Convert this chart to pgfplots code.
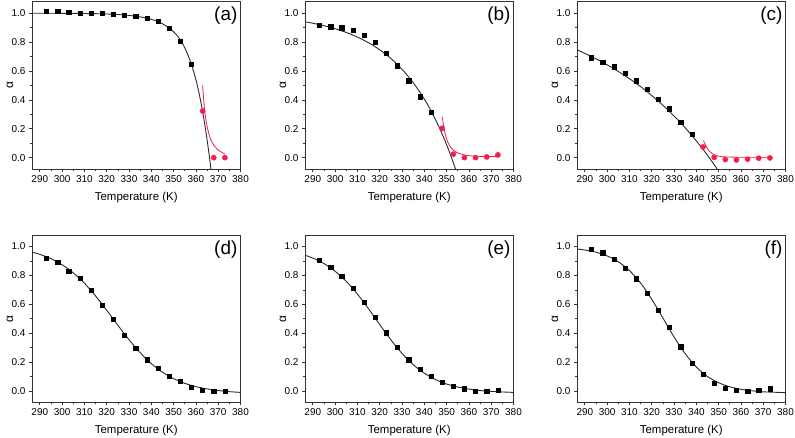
\documentclass[border=0pt]{standalone}
\usepackage{pgfplots}
\pgfplotsset{compat=1.18}
\usepackage{fontspec}
\setmainfont{Liberation Sans}
\definecolor{axcol}{HTML}{333333}
\definecolor{redpt}{HTML}{F21E4C}
\definecolor{fitblk}{HTML}{2A2A2A}

\pgfplotsset{
 panel/.style={
  scale only axis, width=208.5bp, height=167.5bp,
  anchor=north west,
  xmin=286.5, xmax=380, ymin=-0.08, ymax=1.08,
  xtick={290,300,...,380}, ytick={0,0.2,0.4,0.6,0.8,1.0},
  minor x tick num=1, minor y tick num=1,
  tick align=outside, xtick pos=left, ytick pos=left,
  major tick length=3bp, minor tick length=1.8bp,
  axis line style={draw=axcol, line width=0.8bp},
  every tick/.style={draw=axcol, line width=0.7bp},
  /pgf/number format/assume math mode=true,
  tick label style={font=\fontsize{10}{12}\selectfont},
  yticklabel style={/pgf/number format/.cd, fixed, fixed zerofill, precision=1},
  xticklabel style={/pgf/number format/.cd, fixed, precision=0},
  xlabel={Temperature (K)}, ylabel={α},
  every axis x label/.style={at={(axis description cs:0.5,0)}, anchor=center, yshift=-28bp, font=\fontsize{11.5}{13}\selectfont},
  every axis y label/.style={at={(axis description cs:-0.106,0.5)}, rotate=90, anchor=center, font=\fontsize{12}{14}\selectfont},
 },
 blkpts/.style={only marks, mark=square*, mark size=2.1bp, color=black},
 redpts/.style={only marks, mark=*, mark size=2.6bp, color=redpt},
 fitk/.style={no marks, color=fitblk, line width=0.9bp, smooth},
 fitr/.style={no marks, color=redpt, line width=0.8bp, smooth},
}
\newcommand{\plab}[1]{\node[anchor=north east, inner sep=0pt, font=\fontsize{19}{22}\selectfont] at (rel axis cs:0.986,0.968) {#1};}

\begin{document}
\begin{tikzpicture}
\useasboundingbox (0,0) rectangle (795bp,438bp);

% (a)
\begin{axis}[panel, at={(32bp,436.3bp)}]
\addplot[fitk] coordinates {(286.5,1.0) (295,1.0) (305,0.999) (315,0.997) (320,0.995) (325,0.991) (330,0.985) (335,0.975) (338,0.966) (341,0.953) (344,0.935) (347,0.909) (350,0.872) (352,0.838) (354,0.79) (356,0.728) (358,0.645) (359,0.595) (360,0.54) (361,0.475) (362,0.402) (363,0.32) (364,0.228) (365,0.125) (366,0.012) (367,-0.11)};
\addplot[blkpts] coordinates {(293,1.016) (298,1.012) (303,1.01) (308,1.0) (313,0.998) (318,0.998) (323,0.991) (328,0.986) (333,0.977) (338,0.965) (343,0.944) (348,0.896) (353,0.806) (358,0.647)};
\addplot[fitr] coordinates {(363,0.50) (363.5,0.40) (364,0.32) (364.5,0.262) (365,0.217) (366,0.155) (367,0.115) (368,0.088) (369,0.068) (370,0.053) (371,0.042) (372,0.033) (373,0.026)};
\addplot[redpts] coordinates {(363,0.323) (368,0.0) (373,0.0)};
\plab{(a)}
\end{axis}

% (b)
\begin{axis}[panel, at={(305bp,436.3bp)}]
\addplot[fitk] coordinates {(286.5,0.941) (290,0.931) (295,0.914) (300,0.893) (305,0.867) (310,0.835) (315,0.796) (320,0.747) (325,0.687) (330,0.612) (335,0.520) (340,0.406) (343,0.325) (345,0.264) (347,0.199) (349,0.127) (351,0.050) (352.2,0.0) (353,-0.035) (354,-0.080) (355,-0.127)};
\addplot[blkpts] coordinates {(293,0.919) (298,0.907) (303,0.9) (308,0.884) (313,0.85) (318,0.797) (323,0.723) (328,0.637) (333,0.533) (338,0.422) (343,0.314)};
\addplot[fitr] coordinates {(348,0.284) (349,0.19) (350,0.13) (351,0.093) (352,0.068) (353,0.052) (354,0.041) (356,0.027) (358,0.019) (360,0.014) (363,0.010) (367,0.008) (373,0.007)};
\addplot[redpts] coordinates {(348,0.203) (353,0.024) (358,0.0) (363,0.0) (368,0.005) (373,0.019)};
\plab{(b)}
\end{axis}

% (c)
\begin{axis}[panel, at={(577bp,436.3bp)}]
\addplot[fitk] coordinates {(286.5,0.747) (290,0.722) (295,0.685) (300,0.643) (305,0.597) (310,0.547) (315,0.492) (320,0.430) (325,0.363) (330,0.289) (335,0.207) (340,0.116) (343,0.058) (345.8,0.0) (348,-0.048) (350,-0.093)};
\addplot[blkpts] coordinates {(293,0.692) (298,0.662) (303,0.63) (308,0.584) (313,0.533) (318,0.474) (323,0.404) (328,0.339) (333,0.247) (338,0.164)};
\addplot[fitr] coordinates {(343.2,0.118) (344,0.09) (345,0.062) (346,0.043) (347,0.03) (348,0.02) (349,0.014) (350,0.010) (352,0.006) (355,0.004) (360,0.003) (373,0.003)};
\addplot[redpts] coordinates {(343,0.074) (348,0.002) (353,-0.013) (358,-0.016) (363,-0.011) (368,-0.004) (373,-0.002)};
\plab{(c)}
\end{axis}

% (d)
\begin{axis}[panel, at={(32bp,203bp)}]
\addplot[fitk] coordinates {(286.5,0.962) (290,0.946) (295,0.916) (300,0.874) (305,0.818) (310,0.746) (315,0.658) (320,0.559) (325,0.455) (330,0.355) (335,0.265) (340,0.189) (345,0.130) (350,0.085) (355,0.053) (360,0.030) (365,0.014) (370,0.003) (375,-0.005) (380,-0.010)};
\addplot[blkpts] coordinates {(293,0.919) (298,0.889) (303,0.831) (308,0.78) (313,0.697) (318,0.593) (323,0.497) (328,0.388) (333,0.298) (338,0.217) (343,0.155) (348,0.1) (353,0.067) (358,0.028) (363,0.005) (368,0.0) (373,0.0)};
\plab{(d)}
\end{axis}

% (e)
\begin{axis}[panel, at={(305bp,203bp)}]
\addplot[fitk] coordinates {(286.5,0.940) (290,0.920) (295,0.882) (300,0.829) (305,0.759) (310,0.671) (315,0.569) (320,0.460) (325,0.354) (330,0.260) (335,0.182) (340,0.123) (345,0.079) (350,0.048) (355,0.027) (360,0.013) (365,0.003) (370,-0.003) (375,-0.007) (380,-0.010)};
\addplot[blkpts] coordinates {(293,0.905) (298,0.859) (303,0.792) (308,0.709) (313,0.616) (318,0.512) (323,0.404) (328,0.305) (333,0.217) (338,0.148) (343,0.1) (348,0.06) (353,0.035) (358,0.016) (363,-0.002) (368,0.0) (373,0.004)};
\plab{(e)}
\end{axis}

% (f)
\begin{axis}[panel, at={(577bp,203bp)}]
\addplot[fitk] coordinates {(286.5,0.983) (290,0.976) (295,0.961) (300,0.935) (305,0.895) (310,0.834) (315,0.748) (320,0.635) (325,0.506) (330,0.374) (335,0.258) (340,0.166) (345,0.100) (350,0.057) (355,0.029) (360,0.011) (365,0.001) (370,-0.006) (375,-0.009) (380,-0.012)};
\addplot[blkpts] coordinates {(293,0.981) (298,0.958) (303,0.912) (308,0.848) (313,0.778) (318,0.677) (323,0.559) (328,0.439) (333,0.307) (338,0.192) (343,0.114) (348,0.051) (353,0.021) (358,0.005) (363,0.0) (368,0.007) (373,0.016)};
\plab{(f)}
\end{axis}
\end{tikzpicture}
\end{document}
